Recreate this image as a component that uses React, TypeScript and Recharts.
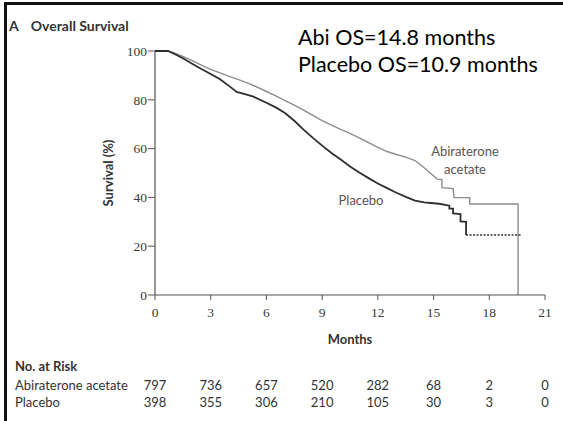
import { LineChart, Line, XAxis, YAxis, Label } from "recharts";

// Kaplan-Meier overall survival, months vs % surviving
const abiMonths = [
  0, 0.7, 1.0, 1.5, 2.0, 2.5, 3.0, 3.5, 4.0, 4.5, 5.0, 5.5, 6.0, 6.5, 7.0, 7.5,
  8.0, 8.5, 9.0, 9.5, 10.0, 10.5, 11.0, 11.5, 12.0, 12.5, 13.0, 13.5, 14.0,
  14.4, 14.8, 15.2, 15.45, 15.45, 16.05, 16.1, 16.95, 16.95, 19.55, 19.55,
];
const abiSurvival = [
  100, 100, 99.3, 97.8, 96.1, 94.2, 92.5, 91.0, 89.6, 88.3, 86.8, 85.2, 83.4,
  81.6, 79.7, 77.8, 75.8, 73.6, 71.5, 69.6, 67.9, 66.2, 64.4, 62.4, 60.5, 58.8,
  57.6, 56.5, 55.1, 52.8, 50.1, 47.5, 47.3, 44.0, 43.6, 39.9, 39.9, 37.3, 37.3,
  0,
];

const placeboMonths = [
  0, 0.7, 1.0, 1.5, 2.0, 2.5, 3.0, 3.5, 4.0, 4.4, 4.8, 5.3, 6.0, 6.5, 7.0, 7.5,
  8.0, 8.5, 9.0, 9.5, 10.0, 10.5, 11.0, 11.5, 12.0, 12.5, 13.0, 13.5, 14.0,
  14.5, 15.0, 15.3, 15.85, 15.85, 16.05, 16.05, 16.45, 16.45, 16.75, 16.75,
];
const placeboSurvival = [
  100, 100, 99.0, 97.0, 94.8, 92.6, 90.6, 88.4, 85.6, 83.2, 82.4, 81.3, 78.8,
  76.9, 74.6, 71.4, 67.8, 64.4, 61.2, 58.2, 55.5, 52.7, 50.2, 47.9, 45.7, 43.8,
  41.9, 40.2, 38.7, 38.0, 37.6, 37.4, 36.6, 35.4, 35.4, 33.4, 33.2, 30.2, 30.0,
  24.6,
];
// censored plateau after the last placebo event
const placeboTailMonths = [16.75, 19.7];
const placeboTailSurvival = [24.6, 24.6];

const monthTicks = [0, 3, 6, 9, 12, 15, 18, 21];
const survivalTicks = [0, 20, 40, 60, 80, 100];
const abiAtRisk = [797, 736, 657, 520, 282, 68, 2, 0];
const placeboAtRisk = [398, 355, 306, 210, 105, 30, 3, 0];

const zip = (ms: number[], ss: number[]) => ms.map((m, i) => ({ m, s: ss[i] }));
const abiData = zip(abiMonths, abiSurvival);
const placeboData = zip(placeboMonths, placeboSurvival);
const placeboTail = zip(placeboTailMonths, placeboTailSurvival);

const riskLabel = (values: number[]) => (v: number) =>
  String(values[monthTicks.indexOf(v)] ?? "");

const sans = "Lato, 'Open Sans', sans-serif";
const tickFont = { fontFamily: "'Liberation Serif', serif", fontSize: 13.5, fill: "#3a3a3a" };
const riskFont = { fontFamily: sans, fontSize: 13, fill: "#333" };

// bottom axes stack in id order: 0 = months, 1 = abiraterone at risk, 2 = placebo at risk
const MONTHS_AXIS = 0;
const ABI_RISK_AXIS = 1;
const PLACEBO_RISK_AXIS = 2;

export default function App() {
  return (
    <div
      style={{
        position: "fixed",
        left: 0,
        top: 0,
        width: 563,
        height: 421,
        overflow: "hidden",
        background: "#fff",
        fontFamily: sans,
      }}
    >
      {/* frame */}
      <div
        style={{
          position: "absolute",
          left: 4,
          top: 2,
          width: 700,
          height: 500,
          borderLeft: "3px solid #111",
          borderTop: "3px solid #111",
        }}
      />

      <LineChart
        width={563}
        height={421}
        margin={{ top: 51, right: 18, bottom: 10, left: 95 }}
        style={{ position: "absolute", left: 0, top: 0 }}
      >
        <XAxis
          xAxisId={MONTHS_AXIS}
          dataKey="m"
          type="number"
          domain={[0, 21]}
          ticks={monthTicks}
          allowDataOverflow
          height={55}
          tickSize={5}
          tickMargin={7}
          tick={tickFont}
          stroke="#555"
          axisLine={{ stroke: "#555", strokeWidth: 1.2 }}
        >
          <Label
            value="Months"
            position="insideBottom"
            offset={6}
            style={{ fontFamily: sans, fontSize: 13, fontWeight: 700, fill: "#333" }}
          />
        </XAxis>
        <XAxis
          xAxisId={ABI_RISK_AXIS}
          dataKey="m"
          type="number"
          domain={[0, 21]}
          ticks={monthTicks}
          allowDataOverflow
          height={36}
          axisLine={false}
          tickLine={false}
          tickSize={0}
          tickMargin={31}
          tick={riskFont}
          tickFormatter={riskLabel(abiAtRisk)}
        />
        <XAxis
          xAxisId={PLACEBO_RISK_AXIS}
          dataKey="m"
          type="number"
          domain={[0, 21]}
          ticks={monthTicks}
          allowDataOverflow
          height={25}
          axisLine={false}
          tickLine={false}
          tickSize={0}
          tickMargin={12}
          tick={riskFont}
          tickFormatter={riskLabel(placeboAtRisk)}
        />
        <YAxis
          type="number"
          domain={[0, 100]}
          ticks={survivalTicks}
          width={60}
          tickSize={7}
          tickMargin={1}
          tick={tickFont}
          stroke="#555"
          axisLine={{ stroke: "#555", strokeWidth: 1.2 }}
        >
          <Label
            value="Survival (%)"
            angle={-90}
            position="insideLeft"
            offset={13}
            style={{ fontFamily: sans, fontSize: 13, fontWeight: 700, fill: "#333", textAnchor: "middle" }}
          />
        </YAxis>

        <Line
          xAxisId={MONTHS_AXIS}
          data={abiData}
          dataKey="s"
          type="linear"
          stroke="#8c8c8c"
          strokeWidth={1.4}
          dot={false}
          isAnimationActive={false}
        />
        <Line
          xAxisId={MONTHS_AXIS}
          data={placeboData}
          dataKey="s"
          type="linear"
          stroke="#2e2e2e"
          strokeWidth={1.8}
          dot={false}
          isAnimationActive={false}
        />
        <Line
          xAxisId={MONTHS_AXIS}
          data={placeboTail}
          dataKey="s"
          type="linear"
          stroke="#2e2e2e"
          strokeWidth={1.6}
          strokeDasharray="2 1.5"
          dot={false}
          isAnimationActive={false}
        />
      </LineChart>

      {/* panel title */}
      <div
        style={{
          position: "absolute",
          left: 9,
          top: 17,
          fontSize: 14,
          fontWeight: 700,
          color: "#333",
          lineHeight: "17px",
          whiteSpace: "nowrap",
        }}
      >
        A<span style={{ marginLeft: 12 }}>Overall Survival</span>
      </div>

      {/* median OS note */}
      <div
        style={{
          position: "absolute",
          left: 298,
          top: 24,
          fontSize: 21.5,
          lineHeight: "27px",
          color: "#000",
          whiteSpace: "nowrap",
        }}
      >
        <div>Abi OS=14.8 months</div>
        <div>Placebo OS=10.9 months</div>
      </div>

      {/* curve labels */}
      <div
        style={{
          position: "absolute",
          left: 415,
          top: 142,
          width: 100,
          textAlign: "center",
          fontSize: 13,
          lineHeight: "18px",
          color: "#555",
        }}
      >
        Abiraterone
        <br />
        acetate
      </div>
      <div
        style={{
          position: "absolute",
          left: 311,
          top: 191,
          width: 100,
          textAlign: "center",
          fontSize: 13,
          lineHeight: "18px",
          color: "#555",
        }}
      >
        Placebo
      </div>

      {/* number at risk row headers */}
      <div
        style={{
          position: "absolute",
          left: 15,
          top: 358,
          fontSize: 13,
          lineHeight: "17px",
          color: "#333",
          whiteSpace: "nowrap",
        }}
      >
        <div style={{ fontWeight: 700 }}>No. at Risk</div>
        <div style={{ marginTop: 2 }}>Abiraterone acetate</div>
        <div>Placebo</div>
      </div>
    </div>
  );
}
